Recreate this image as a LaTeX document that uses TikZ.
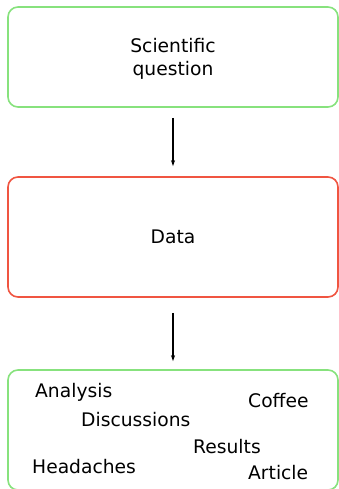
\documentclass[tikz,border=0pt]{standalone}
\usepackage{fontspec}
\setmainfont{DejaVu Sans}
\usetikzlibrary{arrows.meta}
\definecolor{boxgreen}{RGB}{135,226,125}
\definecolor{boxred}{RGB}{240,85,65}
\tikzset{
    stagebox/.style={draw,line width=1.6pt,rounded corners=10pt,minimum width=330pt,align=center,inner sep=0pt},
    word/.style={anchor=base west,inner sep=0pt},
    flow/.style={-{Stealth[length=6pt,width=4pt]},line width=1.1pt,black}
}
\begin{document}
\begin{tikzpicture}[x=1pt,y=-1pt,font=\fontsize{18.7}{23}\selectfont]
    \useasboundingbox(0,0)rectangle(339,489);
    \node[stagebox,draw=boxgreen,minimum height=100pt](question)at(173,57){};
    \node[align=center,inner sep=0pt](questiontext)at(173,59){Scientific\\question};
    \node[stagebox,draw=boxred,minimum height=120pt](data)at(173,237){Data};
    \node[stagebox,draw=boxgreen,minimum height=120pt](work)at(173,430){};
    \draw[flow,shorten <=10pt,shorten >=10pt](question)--(data);
    \draw[flow,shorten <=15pt,shorten >=8pt](data)--(work);

    \node[word](analysis)at(35,397){Analysis};
    \node[word](coffee)at(248,407){Coffee};
    \node[word](discussions)at(81,426){Discussions};
    \node[word](results)at(193,453){Results};
    \node[word](headaches)at(32,473){Headaches};
    \node[word](article)at(248,479){Article};
\end{tikzpicture}
\end{document}
